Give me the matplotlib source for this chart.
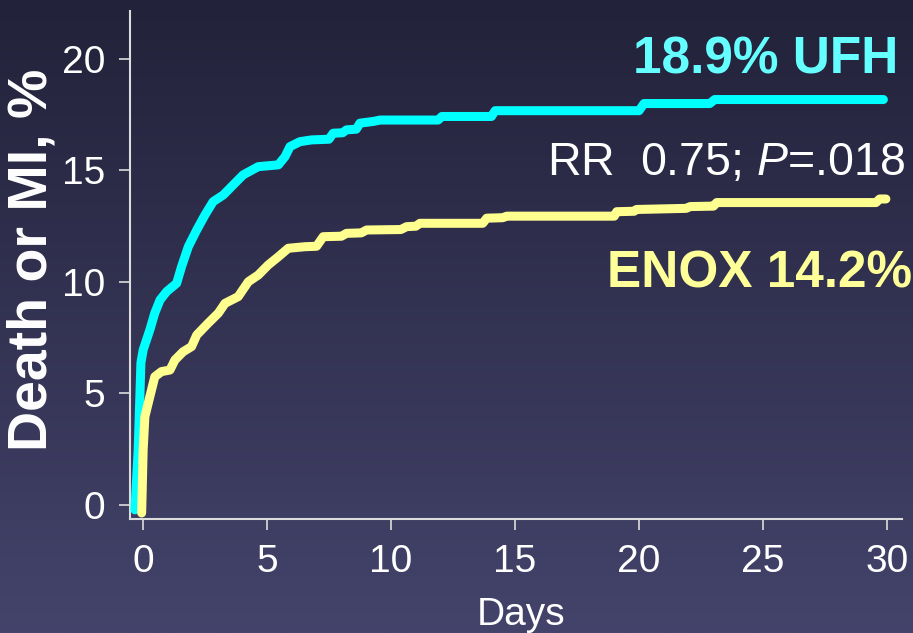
import numpy as np
import matplotlib.pyplot as plt
from matplotlib.colors import LinearSegmentedColormap

plt.rcParams['font.family'] = ['Liberation Sans', 'DejaVu Sans']
plt.rcParams['mathtext.fontset'] = 'custom'
plt.rcParams['mathtext.rm'] = 'Liberation Sans'
plt.rcParams['mathtext.it'] = 'Liberation Sans:italic'

# cumulative death or MI (days, %)
# later flat stretches are listed with their step corners
ufh_days = [-0.32, -0.19, -0.08, 0.01, 0.28, 0.48, 0.69, 0.96, 1.36, 1.56, 1.83,
            2.17, 2.50, 2.83, 3.24, 3.71, 4.04, 4.65, 5.46, 5.73, 5.93, 6.33,
            6.80, 7.50, 7.67, 8.05, 8.21, 8.60, 8.75, 9.30, 9.56, 11.90, 12.05,
            14.05, 14.20, 20.0, 20.2, 22.85, 23.05, 29.85]
ufh_pct = [-0.22, 2.47, 6.37, 6.95, 7.85, 8.61, 9.19, 9.57, 9.94, 10.69, 11.58,
           12.33, 13.00, 13.60, 13.90, 14.43, 14.80, 15.17, 15.25, 15.62, 16.07, 16.29,
           16.37, 16.40, 16.67, 16.69, 16.82, 16.85, 17.12, 17.20, 17.26, 17.26, 17.42,
           17.42, 17.68, 17.68, 18.0, 18.0, 18.18, 18.18]

enox_days = [-0.05, 0.01, 0.08, 0.28, 0.48, 0.75, 1.09, 1.29, 1.62, 1.96, 2.17,
             2.63, 3.04, 3.31, 3.84, 4.25, 4.65, 5.05, 5.46, 5.86, 6.53, 7.00,
             7.27, 8.00, 8.21, 8.80, 9.02, 10.40, 10.63, 11.00, 11.17, 13.70, 13.86,
             14.50, 14.67, 19.0, 19.1, 19.8, 19.9, 21.9, 22.06, 23.0, 23.13,
             29.55, 29.70, 29.95]
enox_pct = [-0.36, 2.47, 3.96, 4.86, 5.75, 5.98, 6.05, 6.50, 6.87, 7.10, 7.62,
            8.15, 8.60, 9.04, 9.34, 10.01, 10.31, 10.76, 11.13, 11.51, 11.58, 11.60,
            12.03, 12.05, 12.18, 12.20, 12.33, 12.35, 12.48, 12.50, 12.63, 12.63, 12.86,
            12.88, 12.95, 12.95, 13.15, 13.17, 13.25, 13.30, 13.38, 13.40, 13.56,
            13.56, 13.72, 13.72]

x_ticks = [0, 5, 10, 15, 20, 25, 30]
y_ticks = [0, 5, 10, 15, 20]

W, H = 913, 633
fig = plt.figure(figsize=(W / 100, H / 100), dpi=100)

# slide background gradient
bg = fig.add_axes([0, 0, 1, 1], zorder=0)
grad = np.linspace(0, 1, 256).reshape(-1, 1)
cmap = LinearSegmentedColormap.from_list('bg', ['#22223a', '#44436b'])
bg.imshow(grad, aspect='auto', cmap=cmap, extent=[0, 1, 0, 1], origin='upper')
bg.axis('off')

ax = fig.add_axes([130 / W, 1 - 519 / H, (902 - 130) / W, (519 - 11) / H], zorder=1)
ax.set_facecolor('none')

ax.plot(ufh_days, ufh_pct, color='#00ffff', lw=6.5,
        solid_joinstyle='round', solid_capstyle='round', zorder=3)
ax.plot(enox_days, enox_pct, color='#ffff8f', lw=6.5,
        solid_joinstyle='round', solid_capstyle='round', zorder=3)

ax.set_xlim(-0.52, 30.6)
ax.set_ylim(-0.63, 22.15)
ax.set_xticks(x_ticks)
ax.set_yticks(y_ticks)

for s in ['top', 'right']:
    ax.spines[s].set_visible(False)
for s in ['left', 'bottom']:
    ax.spines[s].set_color('#dcdcdc')
    ax.spines[s].set_linewidth(1.5)

ax.tick_params(axis='both', colors='#dcdcdc', labelcolor='white', length=8,
               width=1.2, pad=10, labelsize=28)

# labels and annotations
fig.text(33 / W, 1 - 260 / H, 'Death or MI, %', rotation=90, ha='center', va='center',
         fontsize=40, fontweight='bold', color='white')
fig.text(521 / W, 1 - 625 / H, 'Days', ha='center', va='baseline', fontsize=28,
         color='white')
fig.text(898 / W, 1 - 73 / H, '18.9% UFH', ha='right', va='baseline', fontsize=37,
         fontweight='bold', color='#66ffff')
fig.text(905 / W, 1 - 175 / H, r'RR  0.75; $P$=.018', ha='right', va='baseline',
         fontsize=33.5, color='white')
fig.text(912 / W, 1 - 287 / H, 'ENOX 14.2%', ha='right', va='baseline', fontsize=37,
         fontweight='bold', color='#ffff99')

fig.savefig('out.png', dpi=100)
